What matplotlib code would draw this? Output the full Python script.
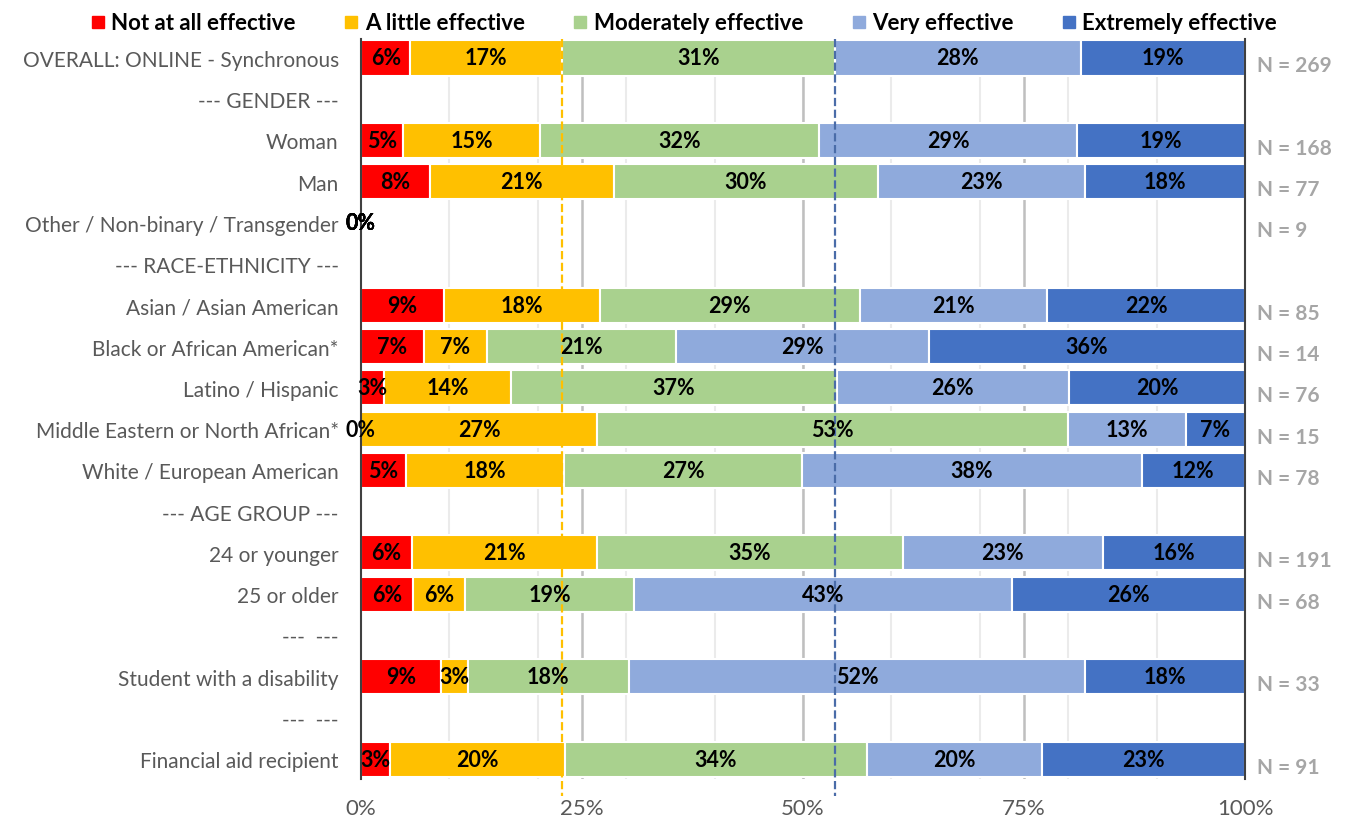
import numpy as np
import matplotlib
matplotlib.use('Agg')
import matplotlib.pyplot as plt
from matplotlib.lines import Line2D

nan = np.nan

# row labels (top to bottom)
categories = ['OVERALL: ONLINE - Synchronous', '--- GENDER ---', 'Woman', 'Man',
              'Other / Non-binary / Transgender', '--- RACE-ETHNICITY ---',
              'Asian / Asian American', 'Black or African American*', 'Latino / Hispanic',
              'Middle Eastern or North African*', 'White / European American',
              '--- AGE GROUP ---', '24 or younger', '25 or older', '---  ---',
              'Student with a disability', '---  ---', 'Financial aid recipient']

# percentages per response, nan = separator row
not_at_all = [5.6, nan, 4.8, 7.8, 0, nan, 9.4, 7.1, 2.6, 0, 5.1, nan, 5.8, 5.9, nan, 9.1, nan, 3.3]
a_little = [17.1, nan, 15.4, 20.8, 0, nan, 17.6, 7.1, 14.4, 26.7, 17.9, nan, 20.9, 5.9, nan, 3.0, nan, 19.8]
moderately = [30.9, nan, 31.6, 29.9, 0, nan, 29.4, 21.4, 36.8, 53.3, 26.9, nan, 34.6, 19.1, nan, 18.2, nan, 34.1]
very = [27.8, nan, 29.2, 23.4, 0, nan, 21.2, 28.6, 26.3, 13.3, 38.4, nan, 22.6, 42.7, nan, 51.6, nan, 19.8]
extremely = [18.6, nan, 19.0, 18.1, 0, nan, 22.4, 35.8, 19.9, 6.7, 11.7, nan, 16.1, 26.4, nan, 18.1, nan, 23.0]
n_sizes = [269, None, 168, 77, 9, None, 85, 14, 76, 15, 78, None, 191, 68, None, 33, None, 91]

series_names = ['Not at all effective', 'A little effective', 'Moderately effective',
                'Very effective', 'Extremely effective']
colors = ['#FF0000', '#FFC000', '#A9D18E', '#8FAADC', '#4472C4']
series = [not_at_all, a_little, moderately, very, extremely]

plt.rcParams['font.family'] = ['Lato', 'DejaVu Sans']

fig = plt.figure(figsize=(13.53, 8.2), dpi=100)
ax = fig.add_axes([0.2668, 0.0488, 0.9202 - 0.2668, 0.9512 - 0.0488])

y = np.arange(len(categories))

# gridlines
for gx in range(10, 100, 10):
    ax.axvline(gx, color='#EBEBEB', lw=1.5, zorder=0)
for gx in (25, 50, 75):
    ax.axvline(gx, color='#BFBFBF', lw=1.8, zorder=0)

left = np.zeros(len(categories))
for name, vals, col in zip(series_names, series, colors):
    v = np.array(vals, dtype=float)
    mask = ~np.isnan(v)
    ax.barh(y[mask], v[mask], left=left[mask], height=0.85, color=col,
            edgecolor='white', linewidth=1.5, zorder=2)
    for yi, vi, li in zip(y[mask], v[mask], left[mask]):
        ax.text(li + vi / 2, yi, f'{vi:.0f}%', ha='center', va='center',
                fontsize=15.5, fontweight='bold', color='black', zorder=5)
    left[mask] += v[mask]

# reference lines from the overall row
ax.plot([not_at_all[0] + a_little[0]] * 2, [-0.46, 17.9], ls='--', color='#FFC000',
        lw=1.6, zorder=4, clip_on=False)
ax.plot([not_at_all[0] + a_little[0] + moderately[0]] * 2, [-0.46, 17.9], ls='--',
        color='#4A6CA8', lw=1.6, zorder=4, clip_on=False)

# sample sizes
for yi, n in zip(y, n_sizes):
    if n is not None:
        ax.text(101.3, yi + 0.18, f'N = {n}', ha='left', va='center', fontsize=15,
                fontweight='bold', color='#A6A6A6', clip_on=False)

ax.set_xlim(0, 100)
ax.set_ylim(17.48, -0.46)
ax.set_yticks(y)
ax.set_yticklabels(categories, fontsize=15, color='#595959')
ax.set_xticks([0, 25, 50, 75, 100])
ax.set_xticklabels(['0%', '25%', '50%', '75%', '100%'], fontsize=16, color='#595959')
ax.tick_params(axis='both', length=0)
ax.tick_params(axis='x', pad=14)
ax.tick_params(axis='y', pad=16)
for s in ('top', 'bottom'):
    ax.spines[s].set_visible(False)
for s in ('left', 'right'):
    ax.spines[s].set_color('#404040')
    ax.spines[s].set_linewidth(1.5)

handles = [Line2D([], [], marker='s', ls='', markersize=9, color=c) for c in colors]
leg = fig.legend(handles, series_names, loc='upper center', bbox_to_anchor=(0.504, 1.008),
                 ncol=5, frameon=False, handletextpad=0.1, columnspacing=2.0,
                 handlelength=1.0, prop={'size': 16, 'weight': 'bold'})

fig.savefig('out.png', dpi=100)
